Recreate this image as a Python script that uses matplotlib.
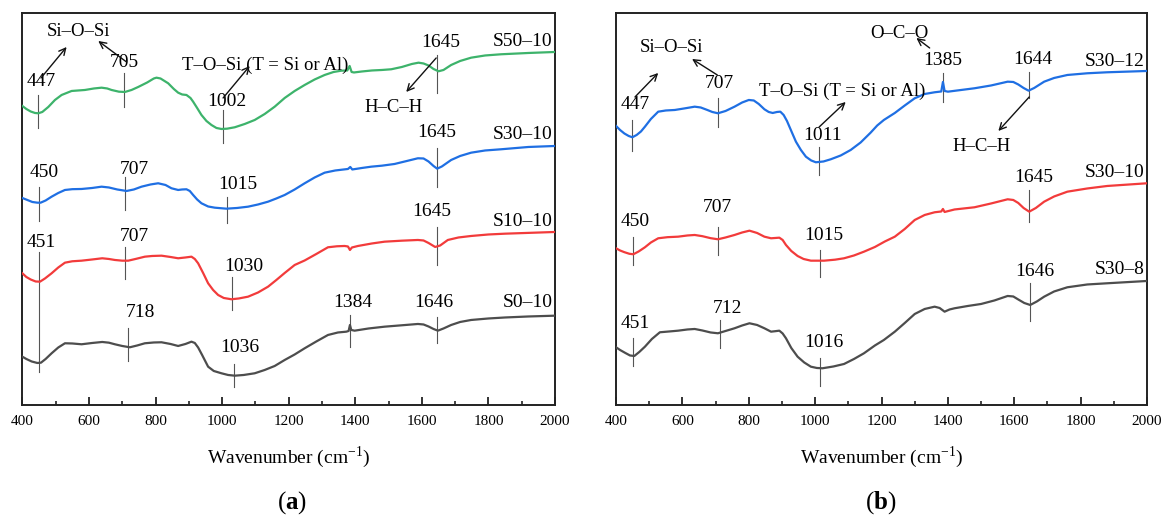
import matplotlib
matplotlib.use("Agg")
import matplotlib.pyplot as plt

plt.rcParams['font.family'] = ['Liberation Serif', 'DejaVu Serif']
plt.rcParams['mathtext.fontset'] = 'custom'
plt.rcParams['mathtext.rm'] = 'Liberation Serif'
plt.rcParams['mathtext.bf'] = 'Liberation Serif:bold'

# ---------------- data (a) ----------------
s50_10_w = [400, 412, 425, 438, 448, 460, 478, 498, 518, 548, 588, 615, 638, 655, 668, 690, 708, 728, 748, 775,
            795, 803, 815, 838, 855, 868, 880, 893, 905, 913, 925, 938, 953, 968, 983, 998, 1015, 1038, 1068, 1098,
            1128, 1158, 1188, 1218, 1248, 1278, 1308, 1335, 1358, 1376, 1383, 1389, 1396, 1420, 1450, 1480, 1508,
            1540, 1570, 1590, 1605, 1620, 1635, 1650, 1665, 1688, 1715, 1748, 1790, 1838, 1920, 2000]
s50_10_h = [299, 296, 293.5, 292, 291.7, 293, 298, 305, 310, 314, 315, 316.5, 317.3, 316.5, 315, 313.3, 313, 315,
            318, 322.5, 326.5, 327.3, 326.5, 321.7, 316, 312.3, 310.5, 310, 307, 303.3, 297, 290, 284, 280, 277,
            276, 276.3, 277.7, 281, 285, 291, 298.3, 307, 314, 320, 325.5, 330, 333, 334.3, 334.5, 339, 333,
            332.5, 333.5, 334.5, 335, 335.7, 338, 341, 342.3, 341.5, 339.5, 336, 333.7, 335, 340, 344, 347.3,
            349.5, 350.7, 352, 353]

s30_10a_w = [400, 415, 430, 445, 455, 470, 488, 508, 528, 550, 578, 610, 638, 660, 685, 713, 735, 758, 785, 808,
             830, 848, 868, 880, 893, 903, 913, 925, 938, 958, 978, 1013, 1045, 1078, 1108, 1138, 1163, 1188,
             1218, 1248, 1278, 1308, 1340, 1378, 1385, 1391, 1420, 1448, 1480, 1518, 1555, 1588, 1605, 1620,
             1635, 1646, 1660, 1688, 1715, 1748, 1790, 1838, 1920, 2000]
s30_10a_h = [207, 205, 203, 202.3, 202.3, 204.5, 208.3, 212, 215, 215.8, 216, 217, 218.3, 217.5, 215.5, 214,
             215.5, 218.3, 220.5, 221.7, 220, 216.7, 215, 215.5, 215.7, 214, 210, 205.5, 201.7, 198.5, 197.3,
             196.3, 197, 198.3, 200.5, 203.3, 206.5, 210, 215.5, 221.7, 227.5, 232.3, 234.5, 236, 238, 235.5,
             237, 238.3, 239.3, 241, 244, 246.7, 246.5, 243.5, 239, 236.3, 238.5, 245, 249, 252.3, 254.5,
             255.7, 258, 259]

s10_10_w = [400, 412, 425, 440, 453, 468, 488, 508, 528, 550, 578, 610, 640, 660, 678, 700, 718, 740, 768, 790,
            818, 845, 868, 890, 908, 918, 928, 943, 958, 973, 988, 1005, 1028, 1050, 1078, 1108, 1138, 1163, 1188,
            1218, 1248, 1283, 1318, 1345, 1368, 1378, 1384, 1390, 1408, 1450, 1488, 1540, 1588, 1605, 1620, 1640,
            1655, 1678, 1710, 1748, 1800, 1850, 2000]
s10_10_h = [131.7, 128, 125.5, 123.5, 123.3, 126.5, 131.7, 137.5, 142.3, 143.7, 144.3, 145.5, 146.7, 146, 145,
            144.3, 144.3, 146, 148.3, 149, 149.3, 148, 146.7, 147.5, 148.3, 146, 141.7, 132, 121.7, 115, 110, 107,
            105.7, 106.5, 108.3, 112.5, 118.3, 125, 132, 140, 144.5, 151, 157.7, 158.7, 159, 158.5, 155, 157.5,
            159, 161.5, 163.3, 164.3, 165, 164.5, 162, 158, 159.5, 165, 167.5, 169, 170.5, 171.3, 173]

s0_10_w = [400, 412, 428, 445, 456, 470, 488, 508, 528, 550, 578, 610, 640, 660, 678, 700, 723, 745, 768, 795,
           818, 845, 868, 890, 908, 918, 928, 940, 958, 975, 998, 1018, 1038, 1065, 1098, 1128, 1158, 1188, 1218,
           1248, 1283, 1318, 1348, 1373, 1380, 1384, 1388, 1398, 1440, 1488, 1540, 1588, 1605, 1620, 1635, 1648,
           1665, 1688, 1715, 1748, 1800, 1850, 1920, 2000]
s0_10_h = [48.3, 46, 43.5, 42, 42.3, 46, 51.7, 57.5, 61.7, 61.5, 60.7, 62, 63, 62.3, 60.7, 59, 57.7, 59.5, 61.7,
           62.5, 62.7, 61, 59, 61, 63.3, 62, 57.5, 50, 38.3, 34, 31.7, 30, 29.3, 30, 31.7, 35, 39, 45, 50.5, 56.7,
           63.5, 70, 72.5, 73.3, 74, 80, 75, 74.3, 76.5, 78.3, 79.7, 81, 80.5, 78.5, 76, 74.3, 76.5, 80, 83, 85,
           86.5, 87.5, 88.5, 89.3]

# ---------------- data (b) ----------------
s30_12_w = [400, 412, 425, 438, 449, 462, 475, 487, 505, 527, 550, 577, 605, 637, 655, 675, 690, 707, 730, 757,
            780, 800, 815, 830, 847, 860, 872, 885, 895, 905, 915, 928, 942, 957, 972, 988, 1002, 1025, 1047, 1077,
            1107, 1137, 1167, 1187, 1207, 1240, 1270, 1300, 1330, 1360, 1380, 1385, 1390, 1400, 1440, 1480, 1530,
            1580, 1597, 1612, 1628, 1643, 1660, 1690, 1720, 1760, 1820, 1880, 2000]
s30_12_h = [279, 275, 271.5, 269, 267.7, 270, 273.5, 278.3, 286, 293.3, 294.5, 295, 296.5, 298.3, 297.5, 295,
            293, 291.7, 294, 298.3, 302.5, 305, 304.5, 301, 295.7, 293, 292, 293, 293.3, 290, 284, 274, 263.3,
            255, 248.3, 244.5, 242.7, 243.5, 245.7, 249.5, 255, 262.5, 272.3, 279.5, 285, 292, 299.5, 306.7,
            311, 312.7, 313.5, 323, 314, 313.3, 315, 316.7, 319.5, 323.3, 323, 320.5, 317, 314.3, 317, 323.3,
            327, 330, 331.7, 332.7, 334]

s30_10b_w = [400, 412, 425, 440, 452, 468, 487, 505, 527, 555, 587, 615, 637, 660, 685, 707, 730, 757, 780, 802,
             825, 847, 867, 880, 892, 902, 912, 928, 947, 965, 987, 1027, 1060, 1087, 1117, 1147, 1180, 1210, 1240,
             1270, 1300, 1330, 1360, 1380, 1385, 1390, 1420, 1480, 1530, 1580, 1597, 1612, 1628, 1645, 1665, 1690,
             1720, 1760, 1820, 1880, 2000]
s30_10b_h = [156.7, 154.5, 152.8, 151.2, 150.7, 153.5, 157.7, 162.5, 166.7, 167.8, 168.3, 169.5, 170, 168.8,
             166.8, 165.7, 167.5, 170, 172.5, 174.3, 172, 168.3, 166.7, 167, 167.3, 165, 160, 154, 149, 146, 144.3,
             144.3, 145.3, 146.7, 149.5, 153.3, 158, 163.5, 168.3, 176, 185, 190, 192.7, 193.5, 196, 193, 195.5,
             197.7, 201.5, 205.7, 205, 202, 197, 193.3, 197, 203.3, 208.5, 213.3, 216.5, 219, 221.7]

s30_8_w = [400, 412, 428, 442, 455, 470, 487, 508, 532, 560, 587, 615, 637, 660, 685, 707, 730, 757, 780, 802,
           825, 847, 867, 880, 892, 902, 912, 928, 947, 967, 987, 1005, 1022, 1055, 1087, 1117, 1147, 1180, 1207,
           1240, 1270, 1300, 1330, 1360, 1375, 1390, 1405, 1420, 1460, 1500, 1540, 1580, 1597, 1612, 1630, 1648,
           1668, 1690, 1720, 1760, 1820, 1880, 2000]
s30_8_h = [57.7, 55, 52, 49.5, 49, 53, 58.3, 66, 72.7, 73.5, 74.3, 75.5, 76, 74.5, 72.5, 71.7, 74, 76.7, 79.5,
           81.7, 80, 76.7, 73.3, 73.8, 74.3, 71.5, 66.7, 57, 48.3, 42.5, 38.3, 37, 36.7, 38.5, 41, 46, 51.7, 59.5,
           65, 73.3, 82, 91, 96, 98.3, 97, 93.3, 95.5, 96.7, 99, 101, 104.5, 109, 108.5, 105.5, 102, 100, 103.5,
           108.3, 113.5, 117.7, 120.5, 121.7, 124]

series_a = ['S50–10', 'S30–10', 'S10–10', 'S0–10']
series_b = ['S30–12', 'S30–10', 'S30–8']

GREEN = '#3db36b'
BLUE = '#1f6fe3'
RED = '#f23b3b'
GRAY = '#4d4d4d'

# peak annotations: (label, line x, line top, line bottom, text x, text y)
peaks_a = [
    ('447', 447, 310, 277, 458, 323), ('705', 705, 332, 298, 706, 342),
    ('1002', 1002, 295, 262, 1013, 303), ('1645', 1645, 350, 312, 1656, 362),
    ('450', 450, 218, 184, 466, 232), ('707', 707, 228, 195, 738, 235),
    ('1015', 1015, 208, 182, 1046, 220), ('1645', 1645, 257, 218, 1646, 272),
    ('451', 451, 153, 33, 458, 162), ('707', 707, 158, 126, 738, 168),
    ('1030', 1030, 128, 95, 1066, 138), ('1645', 1645, 178, 140, 1631, 193),
    ('718', 718, 77, 44, 756, 92), ('1036', 1036, 41, 18, 1053, 57),
    ('1384', 1384, 90, 58, 1393, 102), ('1646', 1646, 88, 62, 1636, 102),
]
peaks_b = [
    ('447', 447, 285, 254, 459, 300), ('707', 707, 307, 278, 712, 321),
    ('1011', 1011, 258, 230, 1022, 269), ('1385', 1385, 332, 303, 1385, 344),
    ('1644', 1644, 333, 307, 1655, 345),
    ('450', 450, 168, 140, 457, 183), ('707', 707, 178, 150, 705, 197),
    ('1015', 1015, 155, 128, 1025, 169), ('1645', 1645, 215, 183, 1658, 227),
    ('451', 451, 67, 39, 457, 81), ('712', 712, 85, 57, 737, 96),
    ('1016', 1016, 47, 19, 1027, 62), ('1646', 1646, 122, 84, 1662, 133),
]

FS = 14

fig = plt.figure(figsize=(11.69, 5.19), dpi=100)
axA = fig.add_axes([0.0191, 0.2197, 0.4557, 0.7553])
axB = fig.add_axes([0.5270, 0.2197, 0.4542, 0.7553])


def style(ax):
    ax.set_xlim(400, 2000)
    ax.set_ylim(0, 392)
    ax.set_yticks([])
    ax.set_xticks(range(400, 2001, 200))
    ax.set_xticks(range(500, 2000, 200), minor=True)
    ax.tick_params(axis='x', which='major', direction='in', length=6, width=1.3,
                   labelsize=11, pad=7, color='#222222')
    ax.tick_params(axis='x', which='minor', direction='in', length=3, width=1.2, color='#222222')
    for s in ax.spines.values():
        s.set_linewidth(1.4)
        s.set_color('#222222')
    ax.set_xlabel('Wavenumber (cm$^{-1}$)', fontsize=14, labelpad=12)


def peaks(ax, lst):
    for lab, x, top, bot, tx, ty in lst:
        ax.plot([x, x], [bot, top], color='#555555', lw=0.8, zorder=1)
        ax.text(tx, ty, lab, fontsize=FS, ha='center', va='center')


def arrow(ax, x0, y0, x1, y1):
    ax.annotate('', xy=(x1, y1), xytext=(x0, y0),
                arrowprops=dict(arrowstyle='->', color='#111111', lw=1.0,
                                shrinkA=0, shrinkB=0, mutation_scale=12))


LW = 1.6
# ---- panel (a)
style(axA)
axA.plot(s50_10_w, s50_10_h, color=GREEN, lw=LW, zorder=3, solid_joinstyle='round')
axA.plot(s30_10a_w, s30_10a_h, color=BLUE, lw=LW, zorder=3, solid_joinstyle='round')
axA.plot(s10_10_w, s10_10_h, color=RED, lw=LW, zorder=3, solid_joinstyle='round')
axA.plot(s0_10_w, s0_10_h, color=GRAY, lw=LW, zorder=3, solid_joinstyle='round')
peaks(axA, peaks_a)
for lab, y in zip(series_a, [363, 270, 183, 102]):
    axA.text(1992, y, lab, fontsize=FS, ha='right', va='center')
axA.text(568, 373, 'Si–O–Si', fontsize=FS - 0.5, ha='center', va='center')
arrow(axA, 456, 327, 533, 358)
arrow(axA, 713, 343, 628, 364)
axA.text(1130, 340, 'T–O–Si (T = Si or Al)', fontsize=FS - 0.5, ha='center', va='center')
arrow(axA, 1003, 307, 1083, 339)
arrow(axA, 1643, 347, 1553, 313)
axA.text(1516, 297, 'H–C–H', fontsize=FS - 0.5, ha='center', va='center')

# ---- panel (b)
style(axB)
axB.plot(s30_12_w, s30_12_h, color=BLUE, lw=LW, zorder=3, solid_joinstyle='round')
axB.plot(s30_10b_w, s30_10b_h, color=RED, lw=LW, zorder=3, solid_joinstyle='round')
axB.plot(s30_8_w, s30_8_h, color=GRAY, lw=LW, zorder=3, solid_joinstyle='round')
peaks(axB, peaks_b)
for lab, y in zip(series_b, [343, 232, 135]):
    axB.text(1992, y, lab, fontsize=FS, ha='right', va='center')
axB.text(567, 357, 'Si–O–Si', fontsize=FS - 0.5, ha='center', va='center')
arrow(axB, 457, 308, 527, 332)
arrow(axB, 705, 330, 629, 346)
axB.text(1081, 314, 'T–O–Si (T = Si or Al)', fontsize=FS - 0.5, ha='center', va='center')
arrow(axB, 1012, 278, 1092, 303)
axB.text(1255, 371, 'O–C–O', fontsize=FS - 0.5, ha='center', va='center')
arrow(axB, 1345, 357, 1305, 367)
arrow(axB, 1645, 308, 1552, 274)
axB.text(1502, 258, 'H–C–H', fontsize=FS - 0.5, ha='center', va='center')

fig.text(0.2496, 1 - 503 / 519, r'($\mathbf{a}$)', fontsize=18, ha='center', va='center')
fig.text(0.7530, 1 - 503 / 519, r'($\mathbf{b}$)', fontsize=18, ha='center', va='center')

fig.savefig('out.png', dpi=100)
